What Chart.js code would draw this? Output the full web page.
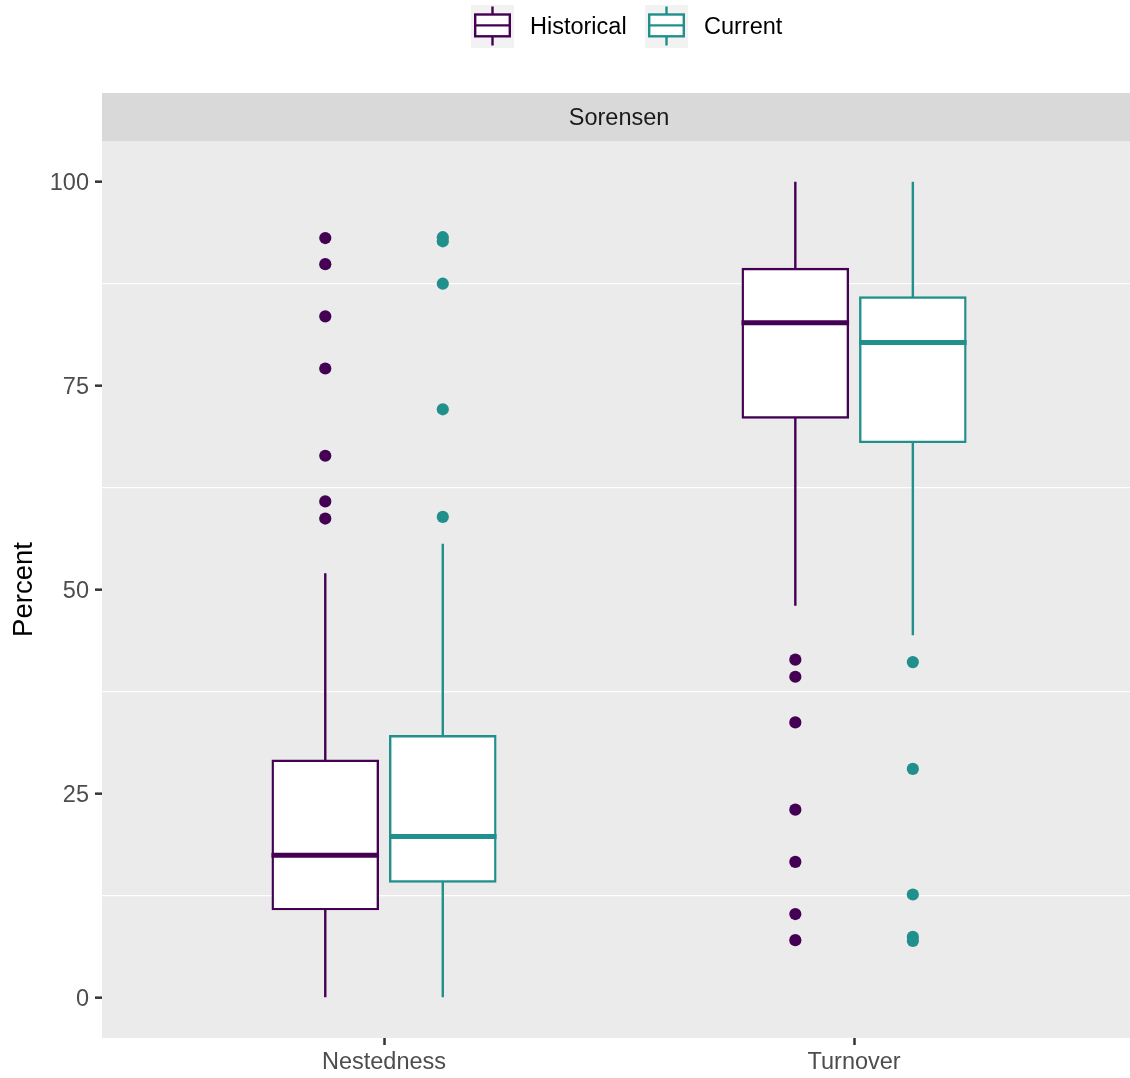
<!DOCTYPE html>
<html>
<head>
<meta charset="utf-8">
<script src="https://cdn.jsdelivr.net/npm/chart.js@4/dist/chart.umd.min.js"></script>
<style>
  html, body { margin: 0; padding: 0; background: #ffffff; overflow: hidden; }
  #wrap { width: 1130px; height: 1078px; position: relative; }
  canvas { display: block; }
</style>
</head>
<body>
<div id="wrap"><canvas id="c" width="1130" height="1078"></canvas></div>
<script>
// ---------- data ----------
const categories = ['Nestedness', 'Turnover'];
const seriesNames = ['Historical', 'Current'];
const facetLabel = 'Sorensen';
const yTitle = 'Percent';
const yTickLabels = [0, 25, 50, 75, 100];
const yGridValues = [12.5, 37.5, 62.5, 87.5];

// box statistics per category [Nestedness, Turnover]
const histLower  = [0, 48.0];
const histQ1     = [10.8, 71.1];
const histMedian = [17.4, 82.7];
const histQ3     = [29.0, 89.3];
const histUpper  = [52.0, 100];

const curLower  = [0, 44.4];
const curQ1     = [14.2, 68.1];
const curMedian = [19.7, 80.3];
const curQ3     = [32.0, 85.8];
const curUpper  = [55.6, 100];

// outliers per category
const histOutNestedness = [93.1, 89.9, 83.5, 77.1, 66.4, 60.8, 58.7];
const histOutTurnover   = [41.4, 39.3, 33.7, 23.0, 16.6, 10.2, 7.0];
const curOutNestedness  = [93.2, 92.7, 87.5, 72.1, 58.9];
const curOutTurnover    = [41.1, 28.0, 12.6, 7.4, 6.9];

// ---------- styles ----------
const colHist = '#440154';
const colCur = '#21908C';
const FONT = "'Liberation Sans', Arial, Helvetica, sans-serif";
const categoryPct = 0.5;
const barPct = 0.895;
const boxLW = 2.4;
const medianLW = 5;
const xRange = [0.4, 2.6]; // full discrete panel range (right side cropped by the canvas)

const stats = [
  { lower: histLower, q1: histQ1, median: histMedian, q3: histQ3, upper: histUpper },
  { lower: curLower, q1: curQ1, median: curMedian, q3: curQ3, upper: curUpper }
];
const outliers = [
  [histOutNestedness, histOutTurnover],
  [curOutNestedness, curOutTurnover]
];
const colors = [colHist, colCur];

// dodge offset in category units, derived from the bar grouping options
function dodgeX(catIdx, seriesIdx) {
  return (catIdx + 1) + (seriesIdx - 0.5) * categoryPct / 2;
}

const datasets = [];
seriesNames.forEach((name, s) => {
  datasets.push({
    type: 'bar',
    label: name,
    data: categories.map((c, i) => ({ x: i + 1, y: [stats[s].q1[i], stats[s].q3[i]] })),
    backgroundColor: '#ffffff',
    borderColor: colors[s],
    borderWidth: boxLW,
    borderSkipped: false,
    inflateAmount: boxLW / 2,
    categoryPercentage: categoryPct,
    barPercentage: barPct,
    order: 2,
    boxStats: s
  });
});
seriesNames.forEach((name, s) => {
  const pts = [];
  categories.forEach((c, i) => {
    outliers[s][i].forEach(v => pts.push({ x: dodgeX(i, s), y: v }));
  });
  datasets.push({
    type: 'scatter',
    label: name + ' outliers',
    data: pts,
    backgroundColor: colors[s],
    borderColor: colors[s],
    borderWidth: 0,
    pointRadius: 6.1,
    pointHoverRadius: 6.1,
    order: 1
  });
});

const panelPlugin = {
  id: 'panel',
  beforeDraw(chart) {
    const { ctx, chartArea: a } = chart;
    const xs = chart.scales.x;
    ctx.save();
    ctx.fillStyle = '#EBEBEB';
    ctx.fillRect(a.left, a.top, a.right - a.left, a.bottom - a.top);
    // facet strip
    ctx.fillStyle = '#D9D9D9';
    ctx.fillRect(a.left, a.top - 48, a.right - a.left, 48);
    ctx.fillStyle = '#1A1A1A';
    ctx.font = '23.5px ' + FONT;
    ctx.textAlign = 'center';
    ctx.textBaseline = 'middle';
    const cx = (xs.getPixelForValue(xRange[0]) + xs.getPixelForValue(xRange[1])) / 2;
    ctx.fillText(facetLabel, cx, a.top - 22);
    ctx.restore();
  },
  beforeDatasetDraw(chart, args) {
    const ds = chart.data.datasets[args.index];
    if (ds.boxStats === undefined) return;
    const { ctx } = chart;
    const y = chart.scales.y;
    const st = stats[ds.boxStats];
    ctx.save();
    ctx.strokeStyle = ds.borderColor;
    ctx.lineWidth = boxLW;
    ctx.lineCap = 'butt';
    args.meta.data.forEach((el, i) => {
      ctx.beginPath();
      ctx.moveTo(el.x, y.getPixelForValue(st.q3[i]));
      ctx.lineTo(el.x, y.getPixelForValue(st.upper[i]));
      ctx.moveTo(el.x, y.getPixelForValue(st.q1[i]));
      ctx.lineTo(el.x, y.getPixelForValue(st.lower[i]));
      ctx.stroke();
    });
    ctx.restore();
  },
  afterDatasetDraw(chart, args) {
    const ds = chart.data.datasets[args.index];
    if (ds.boxStats === undefined) return;
    const { ctx } = chart;
    const y = chart.scales.y;
    const st = stats[ds.boxStats];
    ctx.save();
    ctx.strokeStyle = ds.borderColor;
    ctx.lineWidth = medianLW;
    ctx.lineCap = 'butt';
    args.meta.data.forEach((el, i) => {
      const half = el.width / 2 + boxLW / 2;
      const py = y.getPixelForValue(st.median[i]);
      ctx.beginPath();
      ctx.moveTo(el.x - half, py);
      ctx.lineTo(el.x + half, py);
      ctx.stroke();
    });
    ctx.restore();
  },
  afterDraw(chart) {
    // legend (boxplot keys)
    const { ctx } = chart;
    const keys = [{ x: 471, tx: 530 }, { x: 645, tx: 704 }];
    ctx.save();
    seriesNames.forEach((name, s) => {
      const k = keys[s];
      ctx.fillStyle = '#F2F2F2';
      ctx.fillRect(k.x, 5, 43, 43);
      ctx.strokeStyle = colors[s];
      ctx.lineWidth = boxLW;
      const cx = k.x + 21.5;
      ctx.beginPath();
      ctx.moveTo(cx, 6.5); ctx.lineTo(cx, 14.5);
      ctx.moveTo(cx, 36.3); ctx.lineTo(cx, 45.5);
      ctx.stroke();
      ctx.fillStyle = '#ffffff';
      ctx.fillRect(k.x + 4.2, 14.5, 34.6, 21.8);
      ctx.strokeRect(k.x + 4.2, 14.5, 34.6, 21.8);
      ctx.beginPath();
      ctx.moveTo(k.x + 4.2, 25.4); ctx.lineTo(k.x + 38.8, 25.4);
      ctx.stroke();
      ctx.fillStyle = '#000000';
      ctx.font = '23.5px ' + FONT;
      ctx.textAlign = 'left';
      ctx.textBaseline = 'middle';
      ctx.fillText(name, k.tx, 28);
    });
    ctx.restore();
  }
};

new Chart(document.getElementById('c'), {
  type: 'bar',
  data: { datasets },
  options: {
    responsive: false,
    animation: false,
    events: [],
    layout: { autoPadding: false, padding: { top: 141, left: 0, right: 0, bottom: 0 } },
    plugins: { legend: { display: false }, tooltip: { enabled: false } },
    scales: {
      x: {
        type: 'linear',
        min: 0.4,
        max: 2.587,
        offset: false,
        afterBuildTicks: (sc) => { sc.ticks = categories.map((c, i) => ({ value: i + 1 })); },
        afterFit: (sc) => { sc.height = 40; sc.paddingLeft = 0; sc.paddingRight = 0; },
        ticks: {
          callback: (v) => categories[Math.round(v) - 1] || '',
          color: '#4D4D4D',
          font: { family: FONT, size: 23.5 },
          padding: 3,
          maxRotation: 0,
          autoSkip: false
        },
        grid: {
          offset: false,
          drawOnChartArea: false,
          drawTicks: true,
          tickLength: 7,
          tickColor: '#333333',
          tickWidth: 2.5,
          color: 'rgba(0,0,0,0)'
        },
        border: { display: false }
      },
      y: {
        type: 'linear',
        min: -5,
        max: 105,
        afterBuildTicks: (sc) => {
          const vals = yTickLabels.concat(yGridValues).sort((a, b) => a - b);
          sc.ticks = vals.map(v => ({ value: v }));
        },
        afterFit: (sc) => { sc.width = 102; },
        ticks: {
          callback: (v) => yTickLabels.includes(v) ? String(v) : '',
          color: '#4D4D4D',
          font: { family: FONT, size: 23.5 },
          padding: 6,
          labelOffset: 2,
          autoSkip: false
        },
        grid: {
          drawTicks: true,
          tickLength: 7,
          color: (c) => yGridValues.includes(c.tick && c.tick.value) ? '#FFFFFF' : 'rgba(0,0,0,0)',
          lineWidth: 1.35,
          tickColor: (c) => yTickLabels.includes(c.tick && c.tick.value) ? '#333333' : 'rgba(0,0,0,0)',
          tickWidth: 2.5
        },
        border: { display: false },
        title: {
          display: true,
          text: yTitle,
          color: '#000000',
          font: { family: FONT, size: 27.5 },
          padding: { top: 8, bottom: 0 }
        }
      }
    }
  },
  plugins: [panelPlugin]
});
</script>
</body>
</html>
